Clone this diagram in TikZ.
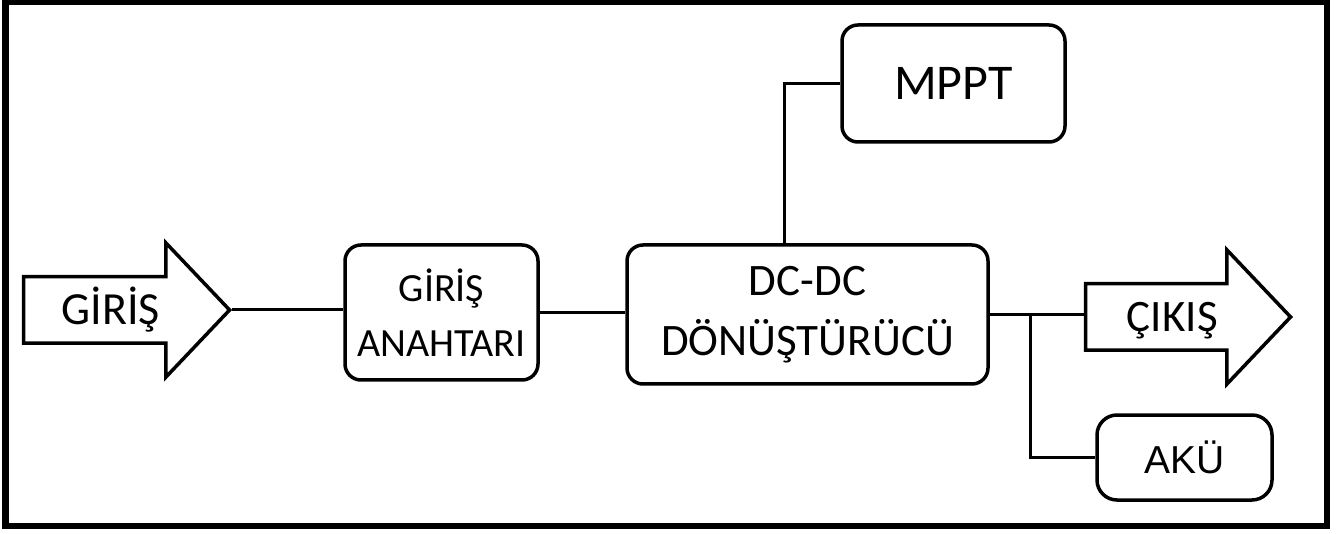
\documentclass[tikz,border=0pt]{standalone}
\usepackage{fontspec}
\setmainfont{Carlito}
\newfontfamily\arialfont{Liberation Sans}
\usetikzlibrary{shapes.arrows, positioning}

\begin{document}
\begin{tikzpicture}[
    x=1pt, y=-1pt,
    box/.style={draw, line width=3.5pt, rounded corners=16pt, align=center, inner sep=0pt},
    bigarrow/.style={single arrow, draw, line width=3.5pt, single arrow head extend=34pt,
        single arrow tip angle=93, inner xsep=6pt, inner ysep=0pt},
    wire/.style={line width=3pt}
]
\useasboundingbox (0,0) rectangle (1341,534);
\draw[line width=6.5pt] (5.5,1.5) rectangle (1327,526);

\node[bigarrow, minimum height=206, text height=46.5pt, text depth=16.5pt, font=\fontsize{46}{54}\selectfont, anchor=tip] (giris) at (232,310) {GİRİŞ};
\node[box, minimum width=193, minimum height=135, font=\fontsize{40}{55}\selectfont] (anahtar) at (441.5,312.5) {GİRİŞ\\ANAHTARI};
\node[box, minimum width=361, minimum height=139, font=\fontsize{45}{60}\selectfont] (dcdc) at (807.5,314.5) {DC-DC\\DÖNÜŞTÜRÜCÜ};
\node[box, minimum width=223, minimum height=117, font=\fontsize{50}{60}\selectfont] (mppt) at (953.5,83.5) {MPPT};
\node[bigarrow, minimum height=205, text height=46pt, text depth=17pt, font=\fontsize{45}{54}\selectfont, anchor=tip] (cikis) at (1293,317) {ÇIKIŞ};
\node[box, minimum width=175, minimum height=85, rounded corners=20pt, font=\arialfont\fontsize{39}{47}\selectfont] (aku) at (1184.5,457.5) {AKÜ};

\draw[wire] (giris.tip) -- (giris.tip -| anahtar.west);
\draw[wire] (anahtar.east) -- (anahtar.east -| dcdc.west);
\draw[wire] ([xshift=-23.5pt]dcdc.north) |- (mppt.west);
\draw[wire] (dcdc.east) -- (dcdc.east -| cikis.tail);
\draw[wire] ([xshift=41pt]dcdc.east) |- (aku.west);
\end{tikzpicture}
\end{document}
